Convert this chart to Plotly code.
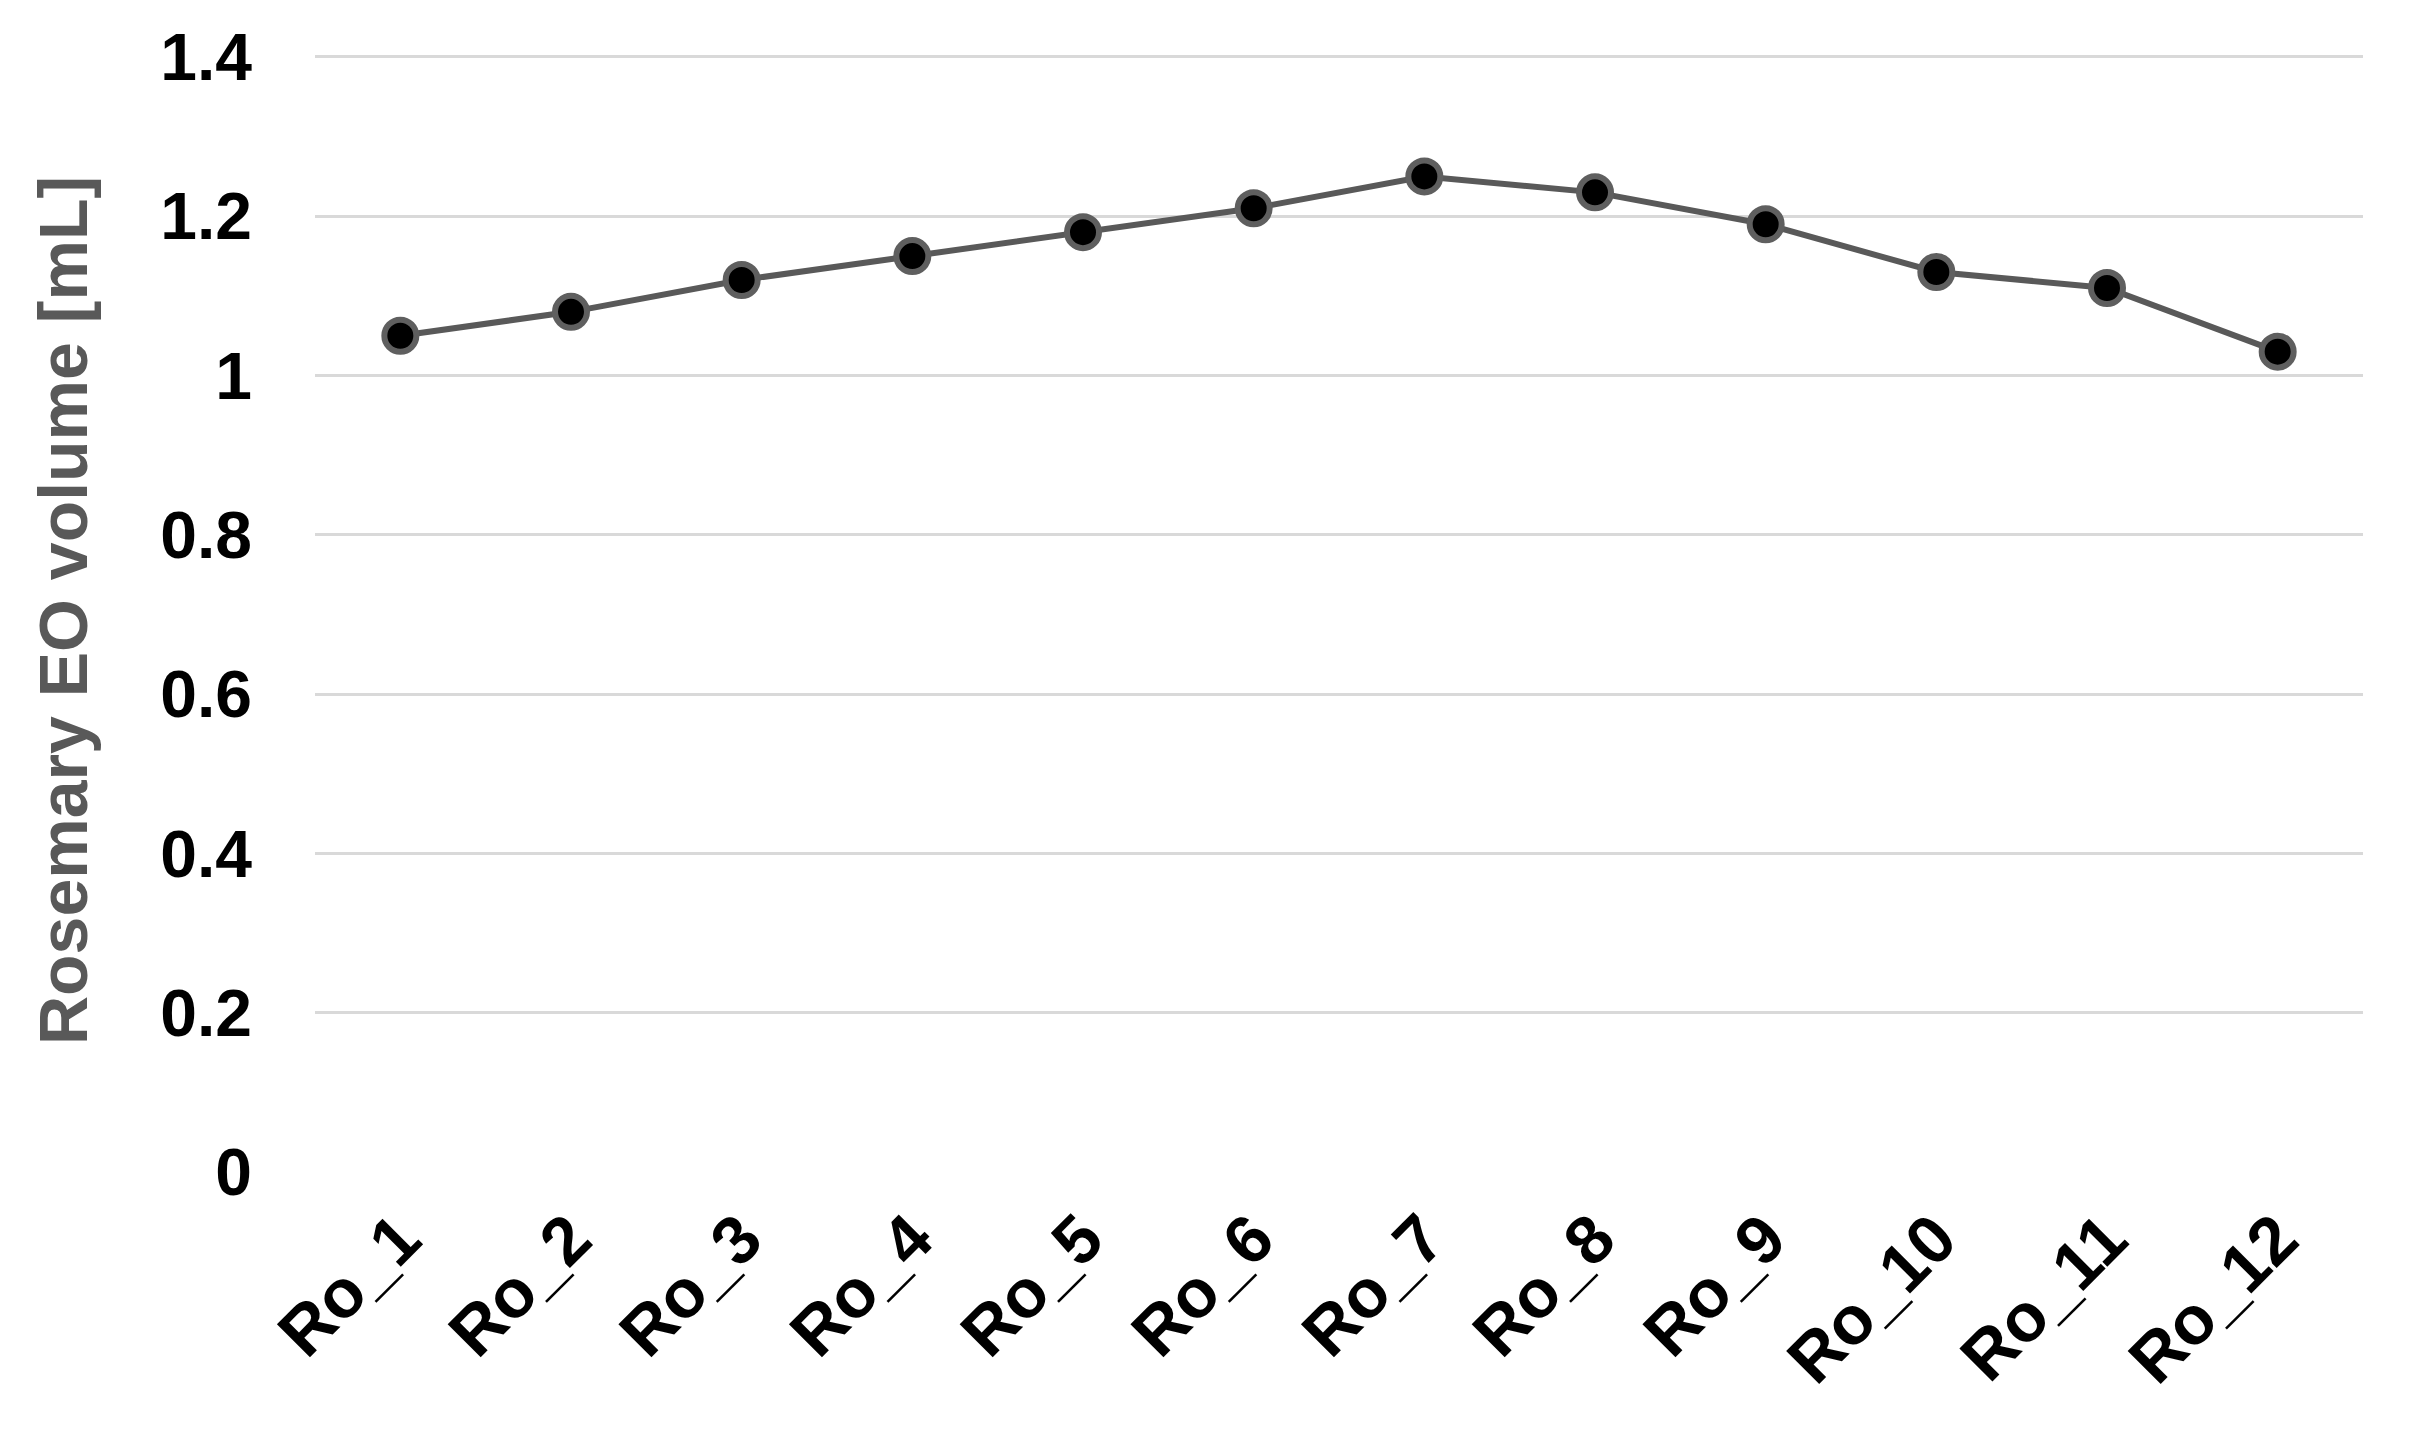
import plotly.graph_objects as go

categories = ["Ro_1", "Ro_2", "Ro_3", "Ro_4", "Ro_5", "Ro_6",
              "Ro_7", "Ro_8", "Ro_9", "Ro_10", "Ro_11", "Ro_12"]
volumes = [1.05, 1.08, 1.12, 1.15, 1.18, 1.21, 1.25, 1.23, 1.19, 1.13, 1.11, 1.03]
y_ticks = [0, 0.2, 0.4, 0.6, 0.8, 1, 1.2, 1.4]
y_title = "Rosemary EO volume [mL]"

fig = go.Figure()
fig.add_trace(go.Scatter(
    x=categories, y=volumes, mode="lines+markers",
    line=dict(color="#595959", width=6),
    marker=dict(color="black", size=32, line=dict(color="#5f5f5f", width=6)),
    showlegend=False,
))

fig.update_layout(
    width=2409, height=1429,
    paper_bgcolor="white", plot_bgcolor="white",
    margin=dict(l=307, r=54, t=39, b=265),
    font=dict(family="Liberation Sans, Arial, sans-serif"),
)
fig.update_xaxes(
    type="category", range=[-0.5, len(categories) - 0.5],
    tickangle=-45, showgrid=False, zeroline=False,
    showline=False, ticks="",
    tickfont=dict(size=68, color="black", weight="bold"),
    ticklabelstandoff=12,
)
fig.update_yaxes(
    range=[0, 1.41], tickvals=y_ticks, ticktext=[f"{v:g}" for v in y_ticks],
    showgrid=True, gridcolor="#d9d9d9", gridwidth=3,
    zeroline=False, showline=False, ticks="",
    tickfont=dict(size=66, color="black", weight="bold"),
    ticklabelstandoff=62,
    title=dict(text=y_title, font=dict(size=68, color="#595959", weight="bold"), standoff=50),
)

fig.write_html("out.html")
